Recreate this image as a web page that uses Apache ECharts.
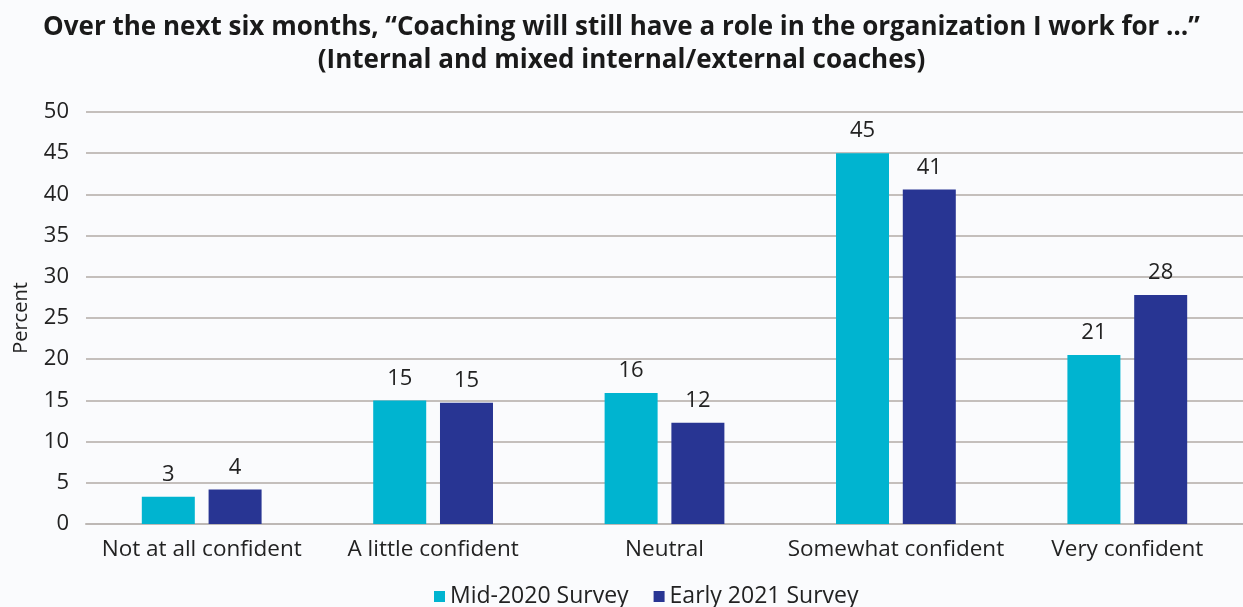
<!DOCTYPE html>
<html><head><meta charset="utf-8">
<script src="https://cdn.jsdelivr.net/npm/echarts@6/dist/echarts.min.js"></script>
<style>html,body{margin:0;padding:0;background:#fafbfd;}#c{width:1243px;height:607px;}</style>
</head><body><div id="c"></div>
<script>
const categories = ["Not at all confident","A little confident","Neutral","Somewhat confident","Very confident"];
const mid2020 = [3.3, 15.0, 15.9, 45.0, 20.5];
const early2021 = [4.2, 14.7, 12.3, 40.6, 27.8];
const seriesNames = ["Mid-2020 Survey","Early 2021 Survey"];
const titleText = "Over the next six months, \u201cCoaching will still have a role in the organization I work for \u2026\u201d\n(Internal and mixed internal/external coaches)";
const FONT = "Open Sans";
const chart = echarts.init(document.getElementById('c'));
const lbl = {show:true, position:'top', distance:11, color:'#222', fontSize:22, fontFamily:FONT, formatter:p=>Math.round(p.value)};
chart.setOption({
  backgroundColor:'#fafbfd',
  title:{text:titleText, left:'center', top:6, textStyle:{fontFamily:FONT, fontWeight:'bold', fontSize:26, color:'#1a1a1a', lineHeight:33}},
  legend:{top:580, left:429, itemWidth:11, itemHeight:11, itemGap:25, icon:'rect', textStyle:{fontFamily:FONT, fontSize:23, color:'#222'}, data:seriesNames},
  grid:{left:86, right:0, top:112, bottom:83, containLabel:false, outerBoundsMode:'none'},
  xAxis:{type:'category', data:categories, axisTick:{show:false}, axisLine:{lineStyle:{color:'#bdb8b5', width:2}},
    axisLabel:{margin:14, color:'#222', fontSize:22.5, fontFamily:FONT, interval:0}},
  yAxis:{type:'value', min:0, max:50, interval:5, name:'Percent', nameLocation:'middle', nameGap:55, nameRotate:90,
    nameTextStyle:{fontFamily:FONT, fontSize:20, color:'#222'},
    axisLabel:{margin:17, color:'#222', fontSize:22, fontFamily:FONT},
    splitLine:{lineStyle:{color:'#c4bfbc', width:2}}},
  series:[
    {name:seriesNames[0], type:'bar', data:mid2020, barWidth:53, barGap:'26%', itemStyle:{color:'#00b4d0'}, label:lbl},
    {name:seriesNames[1], type:'bar', data:early2021, barWidth:53, itemStyle:{color:'#283593'}, label:lbl}
  ]
});
</script></body></html>
